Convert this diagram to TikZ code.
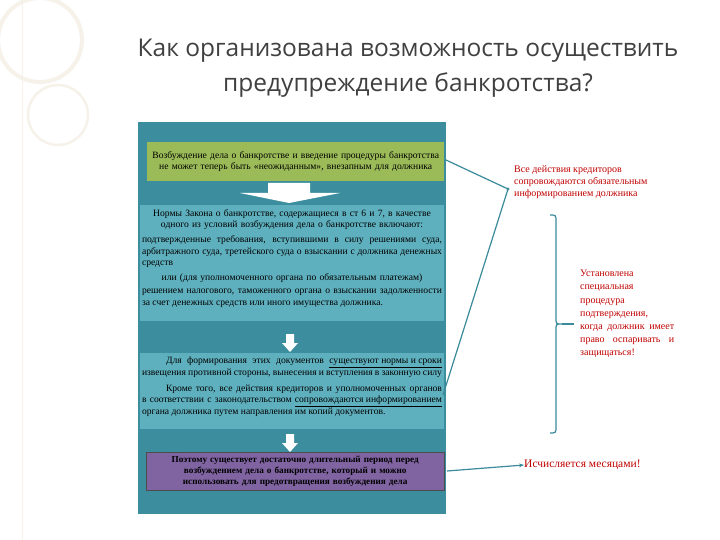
\documentclass[tikz,border=0pt]{standalone}
\usepackage{fontspec}
\setmainfont{Liberation Serif}
\newfontfamily\titlefont{Open Sans}
\usetikzlibrary{decorations.pathreplacing,arrows.meta}
\definecolor{panel}{HTML}{3C8E9E}
\definecolor{inner}{HTML}{5FB0BE}
\definecolor{grn}{HTML}{9BBB59}
\definecolor{purp}{HTML}{8064A2}
\definecolor{redt}{HTML}{C00000}
\definecolor{lnk}{HTML}{3A8A9A}
\definecolor{deco}{HTML}{F6F2EA}
\tikzset{
  boxtext/.style={font=\fontsize{9.6}{11.4}\selectfont, text width=#1, align=justify, inner sep=0pt},
  redtext/.style={font=\fontsize{10}{12}\selectfont, text=redt, inner sep=0pt},
  bigarrow/.style={fill=white, draw=none},
  link/.style={draw=lnk, line width=1.2pt},
}
\begin{document}
\begin{tikzpicture}[x=1pt,y=-1pt]
\useasboundingbox (0,0) rectangle (720,540);
\fill[white] (0,0) rectangle (720,540);
% decoration
\draw[deco, line width=4pt] (40,40) circle (42);
\draw[deco, line width=2.5pt] (58,115) circle (30);
\draw[deco, line width=1pt] (22,0) -- (22,540);
% title
\node[font=\titlefont\fontsize{24.5}{35}\selectfont, align=center, text=black!75] (title) at (408,68)
  {Как организована возможность осуществить\\предупреждение банкротства?};
% panel
\fill[panel] (138,122) rectangle (446,514);
\node[fill=grn, minimum width=297pt, minimum height=39pt, anchor=north west, inner sep=0pt] (g) at (147,142) {};
\node[boxtext=290pt, align=center] at (g.center) {Возбуждение дела о банкротстве и введение процедуры банкротства не может теперь быть «неожиданным», внезапным для должника};
\fill[bigarrow] (268,183) -- (310,183) -- (310,193) -- (340,193) -- (289,203) -- (240,193) -- (268,193) -- cycle;
\node[fill=inner, minimum width=304pt, minimum height=116pt, anchor=north west, inner sep=0pt] (b2) at (140,205) {};
\node[boxtext=300pt, align=center, anchor=north] (b2a) at (292,209) {Нормы Закона о банкротстве, содержащиеся в ст 6 и 7, в качестве одного из условий возбуждения дела о банкротстве включают:};
\node[boxtext=300pt, anchor=north] (b2b) at ([yshift=-6pt]b2a.south) {подтвержденные требования, вступившими в силу решениями суда, арбитражного суда, третейского суда о взыскании с должника денежных средств};
\node[boxtext=300pt, align=center, anchor=north] (b2c) at ([yshift=-6pt]b2b.south) {или (для уполномоченного органа по обязательным платежам)};
\node[boxtext=300pt, anchor=north] (b2d) at ([yshift=-6pt]b2c.south) {решением налогового, таможенного органа о взыскании задолженности за счет денежных средств или иного имущества должника.};
\fill[bigarrow] (286,334) -- (294,334) -- (294,343) -- (298,343) -- (290,352) -- (282,343) -- (286,343) -- cycle;
\node[fill=inner, minimum width=304pt, minimum height=76pt, anchor=north west, inner sep=0pt] (b3) at (140,353) {};
\node[boxtext=300pt, anchor=north] (b3a) at (292,357) {\hspace*{24pt}Для формирования этих документов \underline{существуют нормы и сроки} извещения противной стороны, вынесения и вступления в законную силу};
\node[boxtext=300pt, anchor=north] (b3b) at ([yshift=-7pt]b3a.south) {\hspace*{24pt}Кроме того, все действия кредиторов и уполномоченных органов в соответствии с законодательством \underline{сопровождаются информированием} органа должника путем направления им копий документов.};
\fill[bigarrow] (286,434) -- (294,434) -- (294,443) -- (298,443) -- (290,452) -- (282,443) -- (286,443) -- cycle;
\node[fill=purp, draw=black!70, minimum width=298pt, minimum height=38pt, anchor=north west, inner sep=0pt] (p) at (146,452) {};
\node[boxtext=294pt, align=center, font=\bfseries\fontsize{9.2}{11}\selectfont] at (p.center) {Поэтому существует достаточно длительный период перед возбуждением дела о банкротстве, который и можно использовать для предотвращения возбуждения дела};
% right texts
\node[redtext, align=left, anchor=north west] (t1) at (514,165) {Все действия кредиторов\\сопровождаются обязательным\\информированием должника};
\coordinate (tip) at (508,189);
\draw[link] (446,160) -- (tip);
\draw[link] (443,395) -- (tip);
\fill[lnk] (tip) circle (1.6pt);
\draw[link] (550,215) .. controls (556,215) .. (556,222) -- (556,318) .. controls (556,324) .. (562,324)
  .. controls (556,324) .. (556,330) -- (556,426) .. controls (556,433) .. (550,433);
\coordinate (bt) at (562,324);
\draw[link] (bt) -- (574,324);
\node[redtext, text width=94pt, align=justify, anchor=north west, font=\fontsize{10}{13.2}\selectfont] (t2) at (580,270) {Установлена специальная процедура подтверждения, когда должник имеет право оспаривать и защищаться!};
\node[redtext, anchor=west, font=\fontsize{11.5}{13}\selectfont] (t3) at (524,465) {Исчисляется месяцами!};
\draw[link, -{Stealth[length=5pt]}] (447,471) -- (t3.west);
\end{tikzpicture}
\end{document}
